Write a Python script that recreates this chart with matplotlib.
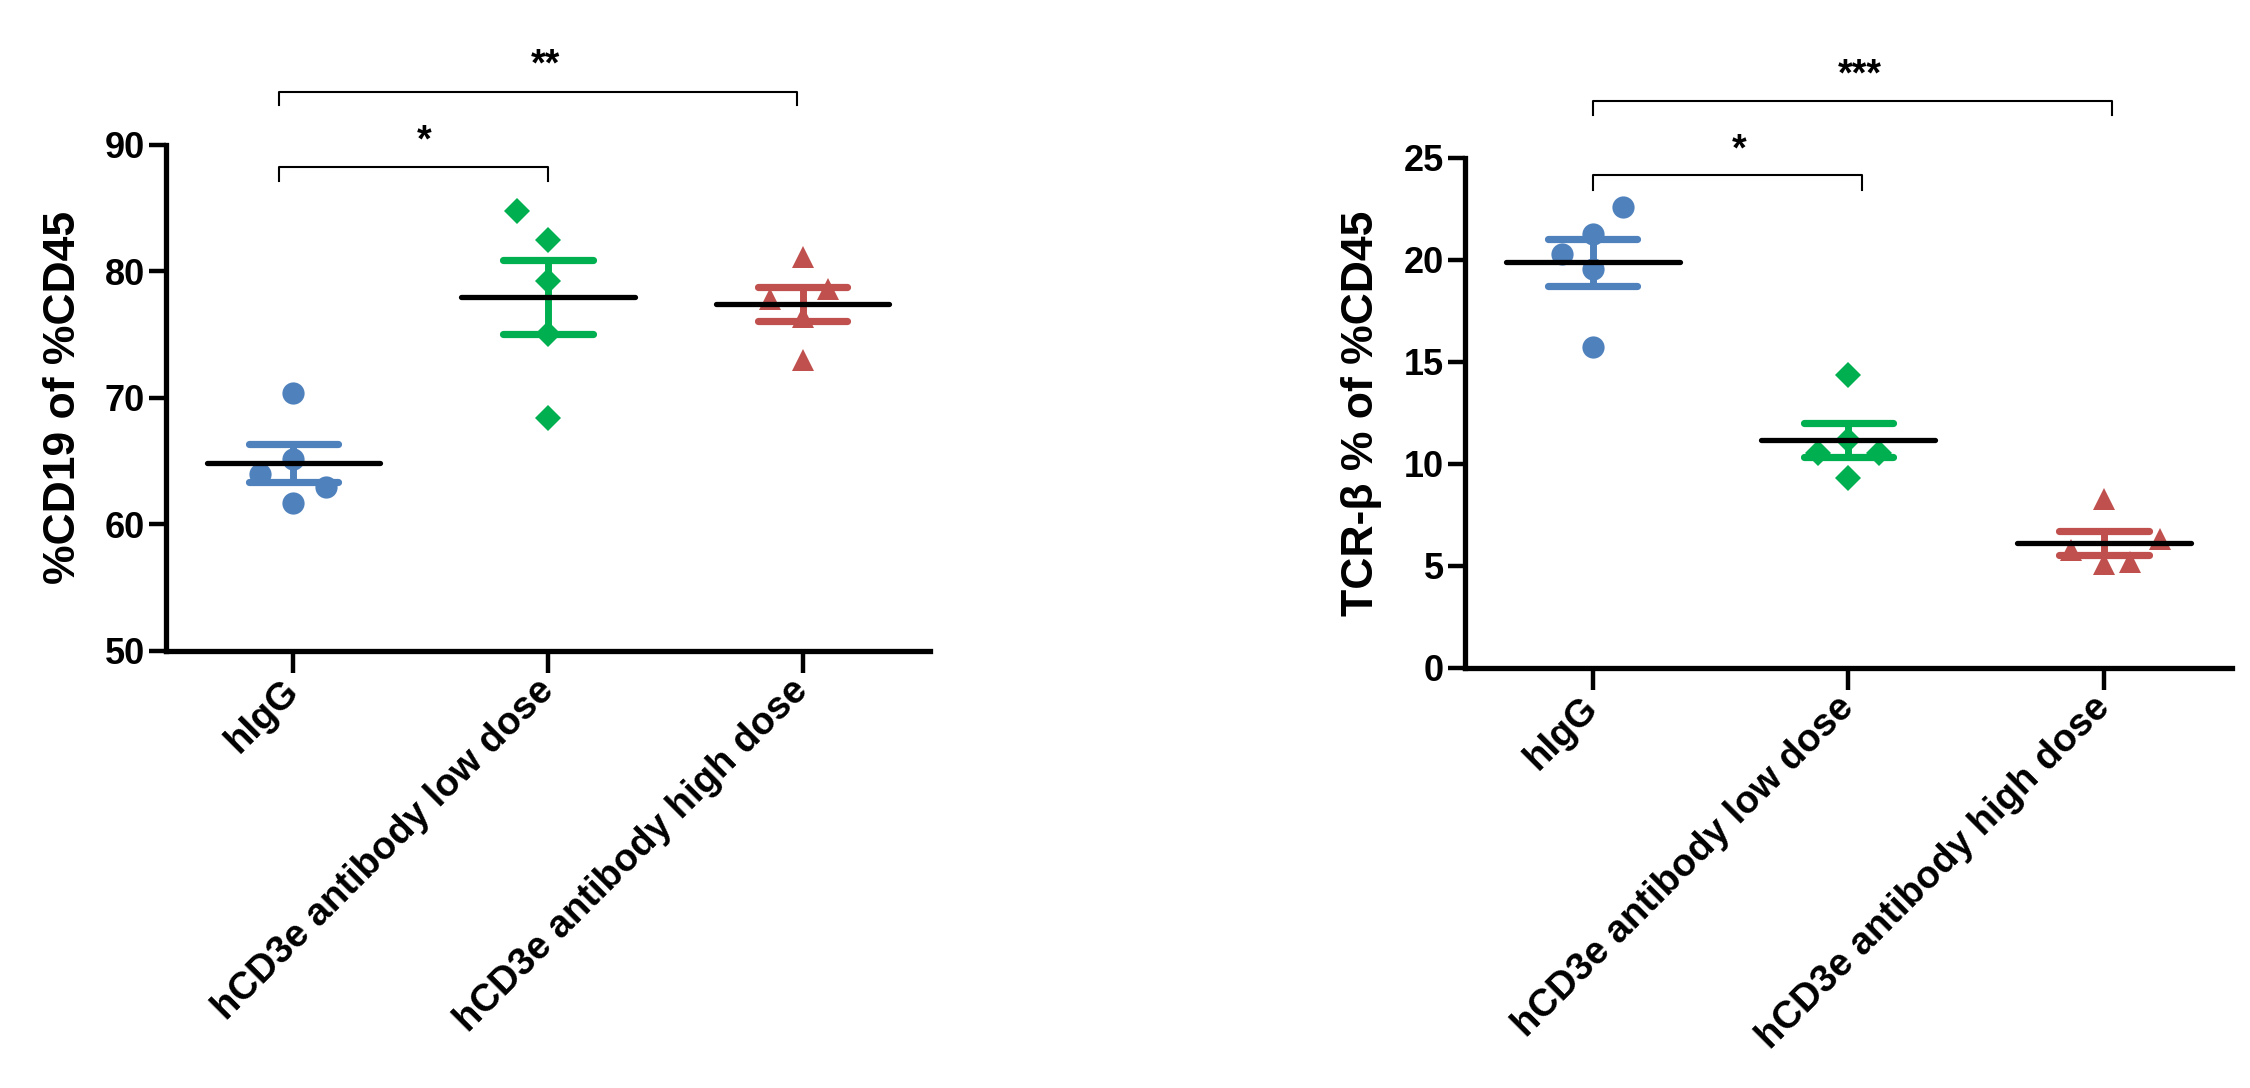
import numpy as np
import matplotlib
matplotlib.use("Agg")
import matplotlib.pyplot as plt

plt.rcParams['font.family'] = ['Liberation Sans', 'DejaVu Sans']

categories = ["hIgG", "hCD3e antibody low dose", "hCD3e antibody high dose"]

# Panel A: %CD19 of %CD45
cd19_higg = [70.38, 65.19, 63.95, 62.95, 61.68]
cd19_higg_dx = [0.0, 0.0, -0.13, 0.13, 0.0]
cd19_low = [84.75, 82.45, 79.25, 75.0, 68.4]
cd19_low_dx = [-0.12, 0.0, 0.0, 0.0, 0.0]
cd19_high = [81.13, 78.63, 77.84, 76.39, 72.96]
cd19_high_dx = [0.0, 0.10, -0.13, 0.0, 0.0]

# Panel B: TCR-beta % of %CD45
tcr_higg = [22.6, 21.26, 20.3, 19.54, 15.74]
tcr_higg_dx = [0.12, 0.0, -0.12, 0.0, 0.0]
tcr_low = [14.36, 11.17, 10.52, 10.52, 9.29]
tcr_low_dx = [0.0, 0.0, -0.12, 0.12, 0.0]
tcr_high = [8.25, 6.3, 5.75, 5.1, 5.2]
tcr_high_dx = [0.0, 0.22, -0.13, 0.0, 0.10]

colors = ["#4F81BD", "#00B050", "#C0504D"]
markers = ["o", "D", "^"]
msizes = [16, 13.5, 16]

fig = plt.figure(figsize=(22.5, 10.88), dpi=100)
axA = fig.add_axes([0.0738, 0.402, 0.3395, 0.465])
axB = fig.add_axes([0.651, 0.3863, 0.341, 0.4685])


def draw_panel(ax, groups, offsets, ylim, yticks, ylabel, brackets, stars):
    for i, (vals, dx) in enumerate(zip(groups, offsets)):
        vals = np.asarray(vals, dtype=float)
        xs = i + np.asarray(dx, dtype=float)
        ax.plot(xs, vals, linestyle='none', marker=markers[i], ms=msizes[i],
                color=colors[i], markeredgewidth=0, zorder=2, clip_on=False)
        m = vals.mean()
        sem = vals.std(ddof=1) / np.sqrt(len(vals))
        ax.plot([i, i], [m - sem, m + sem], color=colors[i], lw=5.0,
                solid_capstyle='round', zorder=3)
        for yv in (m - sem, m + sem):
            ax.plot([i - 0.175, i + 0.175], [yv, yv], color=colors[i], lw=5.2,
                    solid_capstyle='round', zorder=3)
        ax.plot([i - 0.34, i + 0.34], [m, m], color='black', lw=3.8,
                solid_capstyle='round', zorder=4)
    for (x0, x1, ytop, ybot) in brackets:
        ax.plot([x0, x0, x1, x1], [ybot, ytop, ytop, ybot], color='black',
                lw=1.5, clip_on=False, zorder=5)
    for (xs_, ys_, txt) in stars:
        ax.text(xs_, ys_, txt, ha='center', va='baseline', fontsize=27,
                fontweight='bold', clip_on=False)
    ax.set_xlim(-0.5, 2.5)
    ax.set_ylim(*ylim)
    ax.set_yticks(yticks)
    ax.set_yticklabels([str(t) for t in yticks], fontsize=26, fontweight='bold')
    ax.set_xticks(range(len(categories)))
    ax.set_xticklabels(categories, fontsize=27.5, fontweight='bold', rotation=45,
                       ha='right', va='center', rotation_mode='anchor')
    ax.tick_params(axis='y', length=12, width=3.2, pad=3, direction='out')
    ax.tick_params(axis='x', length=16, width=3.2, pad=9, direction='out')
    for s in ('top', 'right'):
        ax.spines[s].set_visible(False)
    for s in ('left', 'bottom'):
        ax.spines[s].set_linewidth(3.8)
    ax.set_ylabel(ylabel, fontsize=32, fontweight='bold')
    ax.yaxis.set_label_coords(-0.108, 0.5)
    ax.patch.set_alpha(0)


draw_panel(axA,
           [cd19_higg, cd19_low, cd19_high],
           [cd19_higg_dx, cd19_low_dx, cd19_high_dx],
           (50, 90), [50, 60, 70, 80, 90], "%CD19 of %CD45",
           [(-0.055, 1.0, 88.26, 87.1), (-0.055, 1.976, 94.2, 93.1)],
           [(0.515, 89.5, "*"), (0.99, 95.5, "**")])

draw_panel(axB,
           [tcr_higg, tcr_low, tcr_high],
           [tcr_higg_dx, tcr_low_dx, tcr_high_dx],
           (0, 25), [0, 5, 10, 15, 20, 25], "TCR-\u03b2 % of %CD45",
           [(0.0, 1.055, 24.17, 23.43), (0.0, 2.03, 27.78, 27.11)],
           [(0.572, 24.9, "*"), (1.045, 28.56, "***")])

fig.savefig("out.png", dpi=100, facecolor='white')
